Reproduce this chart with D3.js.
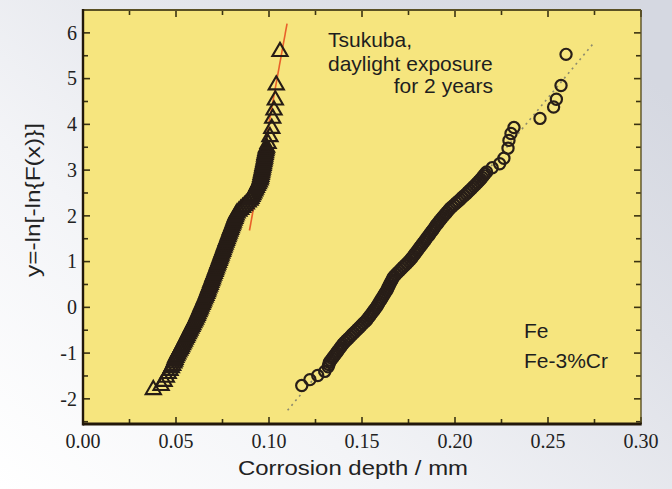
<!DOCTYPE html>
<html>
<head>
<meta charset="utf-8">
<script src="https://cdn.jsdelivr.net/npm/d3@7"></script>
<style>
  html, body { margin: 0; padding: 0; background: #fff; }
  svg { display: block; }
</style>
</head>
<body>
<script>
// ---- data ----
const xTicks = [0.00, 0.05, 0.10, 0.15, 0.20, 0.25, 0.30];
const xTickLabels = ["0.00", "0.05", "0.10", "0.15", "0.20", "0.25", "0.30"];
const yTicks = [-2, -1, 0, 1, 2, 3, 4, 5, 6];
const yTickLabels = ["-2", "-1", "0", "1", "2", "3", "4", "5", "6"];

// triangle series: [depth, y]
const triPoints = [
  [0.0378,-1.80],[0.0420,-1.71],[0.0436,-1.62],[0.0448,-1.53],[0.0458,-1.45],[0.0468,-1.38],
  [0.0475,-1.32],[0.0482,-1.27],[0.0488,-1.22],[0.0492,-1.18],[0.0495,-1.14],
  [0.0499,-1.10],[0.0504,-1.06],[0.0509,-1.02],[0.0514,-0.98],[0.0520,-0.94],[0.0525,-0.90],
  [0.0530,-0.86],[0.0535,-0.82],[0.0540,-0.78],[0.0545,-0.74],[0.0550,-0.70],[0.0555,-0.66],
  [0.0560,-0.62],[0.0565,-0.58],[0.0570,-0.54],[0.0575,-0.50],[0.0580,-0.46],[0.0585,-0.42],
  [0.0590,-0.38],[0.0595,-0.34],[0.0600,-0.30],[0.0605,-0.26],[0.0610,-0.22],[0.0614,-0.18],
  [0.0618,-0.14],[0.0623,-0.10],[0.0627,-0.06],[0.0631,-0.02],[0.0635,0.02],[0.0640,0.06],
  [0.0644,0.10],[0.0648,0.14],[0.0652,0.18],[0.0657,0.22],[0.0661,0.26],[0.0665,0.30],
  [0.0669,0.34],[0.0672,0.38],[0.0676,0.42],[0.0680,0.46],[0.0684,0.50],[0.0687,0.54],
  [0.0691,0.58],[0.0695,0.62],[0.0698,0.66],[0.0702,0.70],[0.0706,0.74],[0.0710,0.78],
  [0.0713,0.82],[0.0717,0.86],[0.0721,0.90],[0.0724,0.94],[0.0728,0.98],[0.0732,1.02],
  [0.0735,1.06],[0.0739,1.10],[0.0742,1.14],[0.0746,1.18],[0.0750,1.22],[0.0753,1.26],
  [0.0757,1.30],[0.0760,1.34],[0.0764,1.38],[0.0768,1.42],[0.0771,1.46],[0.0775,1.50],
  [0.0779,1.54],[0.0782,1.58],[0.0786,1.62],[0.0790,1.66],[0.0793,1.70],[0.0797,1.74],
  [0.0801,1.78],[0.0805,1.82],[0.0808,1.86],[0.0812,1.90],[0.0816,1.94],[0.0819,1.98],
  [0.0823,2.02],[0.0828,2.06],[0.0838,2.10],[0.0848,2.14],[0.0858,2.18],[0.0868,2.22],
  [0.0878,2.26],[0.0888,2.30],[0.0898,2.34],[0.0903,2.38],[0.0908,2.42],[0.0913,2.46],
  [0.0918,2.50],[0.0923,2.54],[0.0927,2.58],[0.0932,2.62],[0.0937,2.66],[0.0942,2.70],
  [0.0947,2.74],[0.0952,2.78],[0.0954,2.82],[0.0956,2.86],[0.0958,2.90],[0.0960,2.94],
  [0.0962,2.98],[0.0964,3.02],[0.0966,3.06],[0.0968,3.10],[0.0970,3.14],[0.0972,3.18],
  [0.0974,3.22],[0.0976,3.26],[0.0977,3.30],[0.0979,3.34],[0.0981,3.38],[0.0983,3.42],
  [0.0985,3.46],[0.0987,3.50],[0.0995,3.58],[0.1005,3.73],[0.1015,3.91],[0.1020,4.13],
  [0.1027,4.31],[0.1034,4.53],[0.1039,4.86],[0.1059,5.59]
];

// circle series: [depth, y]
const circPoints = [
  [0.1176,-1.71],[0.1220,-1.58],[0.1262,-1.49],[0.1300,-1.40],[0.1318,-1.30],[0.1322,-1.25],
  [0.1325,-1.20],[0.1332,-1.16],[0.1340,-1.12],[0.1347,-1.08],[0.1354,-1.04],[0.1362,-1.00],
  [0.1369,-0.96],[0.1376,-0.92],[0.1384,-0.88],[0.1391,-0.84],[0.1398,-0.80],[0.1407,-0.76],
  [0.1417,-0.72],[0.1427,-0.68],[0.1437,-0.64],[0.1446,-0.60],[0.1456,-0.56],[0.1466,-0.52],
  [0.1476,-0.48],[0.1486,-0.44],[0.1495,-0.40],[0.1505,-0.36],[0.1515,-0.32],[0.1525,-0.28],
  [0.1532,-0.24],[0.1540,-0.20],[0.1547,-0.16],[0.1555,-0.12],[0.1562,-0.08],[0.1569,-0.04],
  [0.1577,0.00],[0.1583,0.04],[0.1589,0.08],[0.1595,0.12],[0.1601,0.16],[0.1607,0.20],
  [0.1613,0.24],[0.1619,0.28],[0.1625,0.32],[0.1631,0.36],[0.1637,0.40],[0.1641,0.44],
  [0.1646,0.48],[0.1651,0.52],[0.1656,0.56],[0.1661,0.60],[0.1666,0.64],[0.1673,0.68],
  [0.1682,0.72],[0.1692,0.76],[0.1702,0.80],[0.1711,0.84],[0.1721,0.88],[0.1731,0.92],
  [0.1741,0.96],[0.1751,1.00],[0.1760,1.04],[0.1768,1.08],[0.1775,1.12],[0.1783,1.16],
  [0.1790,1.20],[0.1798,1.24],[0.1805,1.28],[0.1812,1.32],[0.1820,1.36],[0.1827,1.40],
  [0.1835,1.44],[0.1842,1.48],[0.1849,1.52],[0.1857,1.56],[0.1864,1.60],[0.1871,1.64],
  [0.1879,1.68],[0.1886,1.72],[0.1893,1.76],[0.1899,1.80],[0.1908,1.84],[0.1915,1.88],
  [0.1923,1.92],[0.1931,1.96],[0.1940,2.00],[0.1948,2.04],[0.1956,2.08],[0.1965,2.12],
  [0.1973,2.16],[0.1984,2.20],[0.1995,2.24],[0.2006,2.28],[0.2017,2.32],[0.2028,2.36],
  [0.2038,2.40],[0.2049,2.44],[0.2060,2.48],[0.2070,2.52],[0.2080,2.56],[0.2090,2.60],
  [0.2100,2.64],[0.2110,2.68],[0.2119,2.72],[0.2129,2.76],[0.2138,2.80],[0.2146,2.84],
  [0.2154,2.88],[0.2162,2.92],[0.2170,2.96],[0.2200,3.05],[0.2240,3.14],[0.2263,3.26],
  [0.2285,3.48],[0.2290,3.65],[0.2301,3.80],[0.2317,3.93],[0.2457,4.13],[0.2530,4.38],
  [0.2545,4.55],[0.2570,4.85],[0.2597,5.53]
];

// fitted lines
const fitTriX = [0.0895, 0.1097];
const fitTriY = [1.68, 6.20];
const fitCircX = [0.110, 0.275];
const fitCircY = [-2.25, 5.80];

const noteLines = ["Tsukuba,", "daylight exposure", "for 2 years"];
const legendLabels = ["Fe", "Fe-3%Cr"];
const xTitle = "Corrosion depth / mm";
const yTitle = "y=-ln[-ln{F(x)}]";

// ---- drawing ----
const W = 672, H = 489;
const svg = d3.select("body").append("svg").attr("width", W).attr("height", H);
const defs = svg.append("defs");
const grad = defs.append("linearGradient").attr("id", "bg")
  .attr("x1", 0).attr("y1", 1).attr("x2", 1).attr("y2", 0.2);
grad.append("stop").attr("offset", 0).attr("stop-color", "#ffffff");
grad.append("stop").attr("offset", 0.35).attr("stop-color", "#f3f4f7");
grad.append("stop").attr("offset", 0.75).attr("stop-color", "#dfe1e8");
grad.append("stop").attr("offset", 1).attr("stop-color", "#d5d8e1");
svg.append("rect").attr("width", W).attr("height", H).attr("fill", "url(#bg)");

const x = d3.scaleLinear().domain([0, 0.30]).range([83, 641]);
const y = d3.scaleLinear().domain([-2.55, 6.5]).range([424, 10]);

const [x0, x1] = x.range(), [y0, y1] = y.range();

svg.append("rect").attr("x", x0).attr("y", y1).attr("width", x1 - x0).attr("height", y0 - y1)
  .attr("fill", "#f6e57e");

// fitted lines
const line = d3.line().x(d => x(d[0])).y(d => y(d[1]));
svg.append("path").attr("d", line(fitCircX.map((v, i) => [v, fitCircY[i]])))
  .attr("fill", "none").attr("stroke", "#8c8a6e").attr("stroke-width", 1.6)
  .attr("stroke-dasharray", "2,4");
svg.append("path").attr("d", line(fitTriX.map((v, i) => [v, fitTriY[i]])))
  .attr("fill", "none").attr("stroke", "#e8602a").attr("stroke-width", 1.6);

const triSym = d3.symbol().type(d3.symbolTriangle).size(100);
svg.append("g").selectAll("path").data(triPoints).join("path")
  .attr("d", triSym)
  .attr("transform", d => `translate(${x(d[0])},${y(d[1])})`)
  .attr("fill", "none").attr("stroke", "#261c16").attr("stroke-width", 2.1);

svg.append("g").selectAll("circle").data(circPoints).join("circle")
  .attr("cx", d => x(d[0])).attr("cy", d => y(d[1])).attr("r", 5.6)
  .attr("fill", "none").attr("stroke", "#281e18").attr("stroke-width", 2.2);

// ticks (inward on all four sides)
const tickCol = "#3a3212";
const xMinor = d3.range(0, 0.3001, 0.025);
const yMinor = d3.range(-2.5, 6.5001, 0.5);
const tg = svg.append("g").attr("stroke", tickCol).attr("stroke-width", 1.6);
xMinor.forEach(v => {
  const major = Math.abs(v / 0.05 - Math.round(v / 0.05)) < 1e-6;
  const L = major ? 7 : 5;
  tg.append("line").attr("x1", x(v)).attr("x2", x(v)).attr("y1", y0).attr("y2", y0 - L);
  tg.append("line").attr("x1", x(v)).attr("x2", x(v)).attr("y1", y1).attr("y2", y1 + L);
});
yMinor.forEach(v => {
  const major = Math.abs(v - Math.round(v)) < 1e-6;
  const L = major ? 7 : 5;
  tg.append("line").attr("y1", y(v)).attr("y2", y(v)).attr("x1", x0).attr("x2", x0 + L);
  tg.append("line").attr("y1", y(v)).attr("y2", y(v)).attr("x1", x1).attr("x2", x1 - L);
});

// frame
svg.append("line").attr("x1", x0).attr("x2", x1).attr("y1", y1).attr("y2", y1)
  .attr("stroke", "#5a5024").attr("stroke-width", 1.8);
svg.append("line").attr("x1", x1).attr("x2", x1).attr("y1", y1).attr("y2", y0)
  .attr("stroke", "#5a5024").attr("stroke-width", 1.4);
svg.append("line").attr("x1", x0).attr("x2", x1 + 0.7).attr("y1", y0).attr("y2", y0)
  .attr("stroke", "#22180a").attr("stroke-width", 2.8);
svg.append("line").attr("x1", x0).attr("x2", x0).attr("y1", y1 - 0.9).attr("y2", y0 + 1.4)
  .attr("stroke", "#22180a").attr("stroke-width", 2.4);

// tick labels
const serif = "'Liberation Serif', 'Times New Roman', serif";
const sans = "'Liberation Sans', Arial, Helvetica, sans-serif";
svg.append("g").selectAll("text").data(xTicks).join("text")
  .attr("x", d => x(d)).attr("y", 448)
  .attr("text-anchor", "middle")
  .attr("font-family", serif).attr("font-size", 20).attr("fill", "#222")
  .text((d, i) => xTickLabels[i]);
svg.append("g").selectAll("text").data(yTicks).join("text")
  .attr("x", 77).attr("y", d => y(d)).attr("dy", "0.34em")
  .attr("text-anchor", "end")
  .attr("font-family", serif).attr("font-size", 20).attr("fill", "#222")
  .text((d, i) => yTickLabels[i]);

// axis titles
svg.append("text").attr("x", 353).attr("y", 475).attr("text-anchor", "middle")
  .attr("font-family", sans).attr("font-size", 21).attr("fill", "#222")
  .attr("textLength", 230).attr("lengthAdjust", "spacingAndGlyphs")
  .text(xTitle);
svg.append("text").attr("transform", "translate(40,200) rotate(-90)")
  .attr("text-anchor", "middle")
  .attr("font-family", sans).attr("font-size", 20).attr("fill", "#222")
  .attr("textLength", 154).attr("lengthAdjust", "spacingAndGlyphs")
  .text(yTitle);

// annotation
const note = svg.append("g").attr("font-family", sans).attr("font-size", 21).attr("fill", "#1e1e1e");
note.append("text").attr("x", 328).attr("y", 47).text(noteLines[0]);
note.append("text").attr("x", 328).attr("y", 71).text(noteLines[1]);
note.append("text").attr("x", 493).attr("y", 93).attr("text-anchor", "end").text(noteLines[2]);

// legend labels
const leg = svg.append("g").attr("font-family", sans).attr("font-size", 21).attr("fill", "#1e1e1e");
legendLabels.forEach((t, i) => {
  leg.append("text").attr("x", 524).attr("y", 338 + i * 30).text(t);
});
</script>
</body>
</html>
